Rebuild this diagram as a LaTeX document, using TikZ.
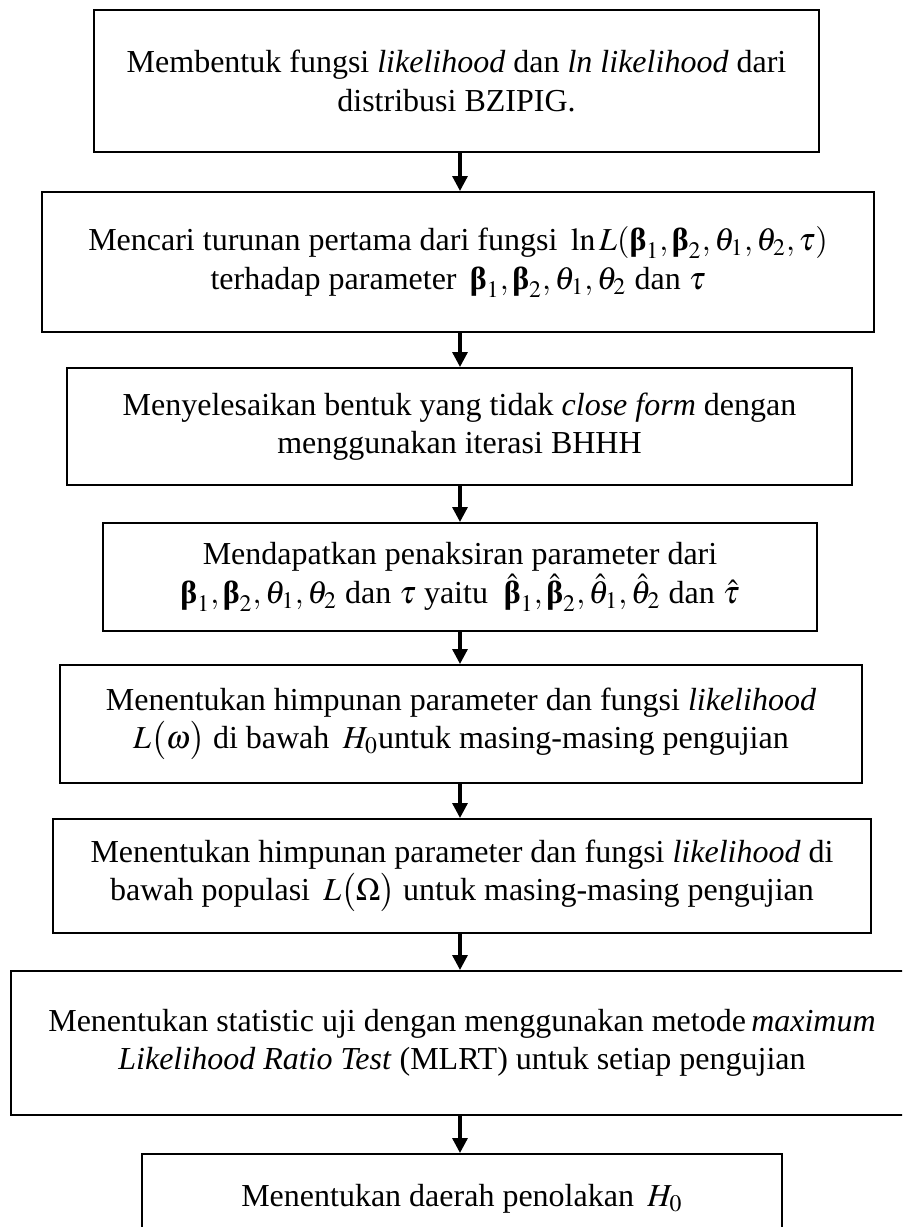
\documentclass[tikz,border=0pt]{standalone}
\usepackage{amsmath}
\usepackage{mathptmx}
\usepackage{fontspec}
\setmainfont{Liberation Serif}
\usetikzlibrary{arrows.meta}
\newcommand{\bbet}{\mbox{\normalfont\bfseries β}}
\begin{document}
\begin{tikzpicture}[x=0.4pt, y=-0.4pt, font=\fontsize{12.8}{15.4}\selectfont]
    % Define styles
    \tikzset{
        stepbox/.style={rectangle, draw, line width=0.8pt, align=center, inner sep=0pt},
        arrow/.style={-{Triangle[length=6pt, width=6pt]}, line width=1.3pt},
    }
    \useasboundingbox (0,0) rectangle (902,1227);
    \clip (0,0) rectangle (902,1227);

    % Steps
    \node[stepbox, minimum width=290pt, minimum height=56.8pt] (b1) at (456.5,81)
        {Membentuk fungsi \textit{likelihood} dan \textit{ln likelihood} dari\\ distribusi BZIPIG.};
    \node[stepbox, minimum width=332.8pt, minimum height=56pt] (b2) at (458,262)
        {Mencari turunan pertama dari fungsi \,$\ln L(\bbet_1,\bbet_2,\theta_1,\theta_2,\tau)$\\
         terhadap parameter \,$\bbet_1,\bbet_2,\theta_1,\theta_2$ dan $\tau$};
    \node[stepbox, minimum width=314pt, minimum height=46.8pt] (b3) at (459.5,426.5)
        {Menyelesaikan bentuk yang tidak \textit{close form} dengan\\ menggunakan iterasi BHHH};
    \node[stepbox, minimum width=285.6pt, minimum height=43.2pt] (b4) at (460,577)
        {Mendapatkan penaksiran parameter dari\\
         $\bbet_1,\bbet_2,\theta_1,\theta_2$ dan $\tau$ yaitu \ $\hat{\bbet}_1,\hat{\bbet}_2,\hat{\theta}_1,\hat{\theta}_2$ dan $\hat{\tau}$};
    \node[stepbox, minimum width=320.8pt, minimum height=47.2pt] (b5) at (461,724)
        {Menentukan himpunan parameter dan fungsi \textit{likelihood}\\
         $L\big(\omega\big)$ di bawah \,$H_0$untuk masing-masing pengujian};
    \node[stepbox, minimum width=327.2pt, minimum height=45.6pt] (b6) at (462,876)
        {Menentukan himpunan parameter dan fungsi \textit{likelihood} di\\
         bawah populasi \,$L\big(\Omega\big)$ untuk masing-masing pengujian};
    \node[stepbox, minimum width=360.8pt, minimum height=57.6pt] (b7) at (462,1043)
        {Menentukan statistic uji dengan menggunakan metode\,\textit{maximum}\\
         \textit{Likelihood Ratio Test} (MLRT) untuk setiap pengujian};
    \node[stepbox, minimum width=256pt, minimum height=36pt] (b8) at (462,1199)
        {Menentukan daerah penolakan \,$H_0$};

    % Arrows
    \draw[arrow] (b1.south -| b4.north) -- (b2.north -| b4.north);
    \draw[arrow] (b2.south -| b4.north) -- (b3.north -| b4.north);
    \draw[arrow] (b3.south -| b4.north) -- (b4.north);
    \draw[arrow] (b4.south) -- (b5.north -| b4.north);
    \draw[arrow] (b5.south -| b4.north) -- (b6.north -| b4.north);
    \draw[arrow] (b6.south -| b4.north) -- (b7.north -| b4.north);
    \draw[arrow] (b7.south -| b4.north) -- (b8.north -| b4.north);
\end{tikzpicture}
\end{document}
